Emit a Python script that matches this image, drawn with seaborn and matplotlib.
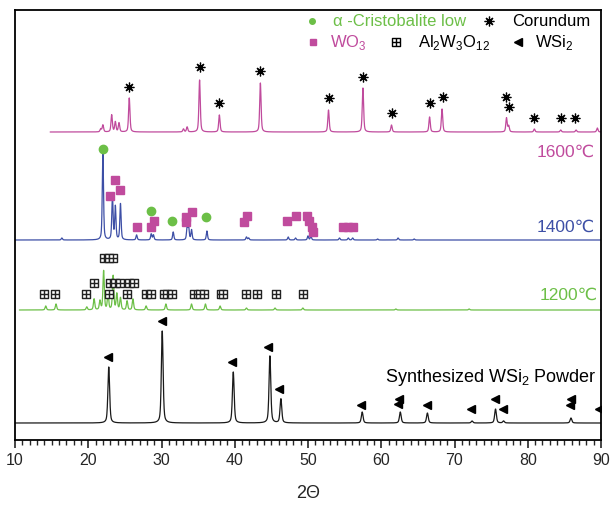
import numpy as np
import pandas as pd
import matplotlib
matplotlib.use("Agg")
import matplotlib.pyplot as plt
from matplotlib.path import Path
from matplotlib.ticker import MultipleLocator
import seaborn as sns

# ---- peak lists (2theta, height above baseline) ----
black_pos = [22.8, 30.1, 39.8, 44.8, 46.3, 57.4, 62.6, 66.3, 72.4, 75.6, 76.7, 85.9]
black_int = [56, 92, 51, 67, 24, 11, 11, 10, 2, 14, 2, 5]

green_pos = [14.2, 15.6, 19.8, 20.8, 21.6, 22.1, 22.7, 23.4, 23.9, 24.4, 25.3, 26.1,
             27.9, 30.6, 34.1, 36.0, 38.0, 41.6, 45.5, 49.3, 62.0, 72.0]
green_int = [4, 6, 3, 11, 9, 39, 16, 34, 16, 12, 9, 11,
             4, 6, 6, 6, 4, 2, 2, 2, 1, 1]

blue_pos = [16.4, 22.0, 23.3, 23.7, 24.4, 26.6, 28.6, 28.9, 31.6, 33.5, 33.7, 34.1,
            36.2, 41.6, 41.9, 47.3, 48.3, 50.0, 50.4, 54.3, 55.5, 56.1, 59.5, 62.3, 64.5]
blue_int = [2, 86, 45, 33, 36, 5, 6, 5, 8, 12, 13, 10,
            9, 3, 2, 3, 2, 4, 4, 2, 2, 2, 1, 2, 1]

magenta_pos = [21.7, 22.0, 23.2, 23.7, 24.2, 25.6, 33.0, 33.5, 35.2, 37.9, 43.5, 52.8,
               57.5, 61.4, 66.6, 68.3, 77.1, 77.4, 80.9, 84.5, 86.6, 89.5]
magenta_int = [3, 7, 17, 10, 9, 34, 3, 5, 52, 17, 49, 22,
               44, 7, 15, 23, 14, 6, 3, 2, 2, 4]

# baselines of the stacked patterns and where each scan starts
offsets = {"black": 17, "green": 130, "blue": 200, "magenta": 308}
starts = {"black": 10.0, "green": 10.6, "blue": 10.0, "magenta": 14.8}

# ---- phase markers (2theta, y) ----
wsi2_x = [22.7, 30.0, 39.6, 44.6, 46.1, 57.3, 62.4, 62.3, 66.3, 72.3, 75.5, 76.6, 85.7, 85.9, 89.7]
wsi2_y = [83, 119, 78, 93, 51, 35, 41, 36, 35, 31, 41, 31, 35, 41, 31]

alw_x = [14.0, 15.5, 19.7, 22.9, 25.3, 27.9, 28.5, 30.4, 30.8, 31.4, 34.5, 35.2, 35.8,
         38.1, 38.4, 41.6, 43.1, 45.6, 49.3,
         20.8, 23.0, 23.7, 24.4, 25.5, 26.2,
         22.1, 22.8, 23.4]
alw_y = [146] * 19 + [157] * 6 + [182] * 3

crist_x = [22.0, 28.5, 31.5, 36.1]
crist_y = [291, 229, 219, 223]

wo3_x = [23.0, 23.6, 24.4, 26.6, 28.6, 29.0, 33.3, 34.1, 33.4, 41.3, 41.7, 47.2, 48.3,
         49.8, 50.1, 50.5, 50.7, 54.8, 55.5, 56.1]
wo3_y = [244, 260, 250, 213, 213, 219, 223, 228, 218, 218, 224, 219, 224,
         224, 219, 213, 208, 213, 213, 213]

cor_x = [25.6, 35.2, 37.9, 43.5, 52.8, 57.5, 61.4, 66.6, 68.4, 77.0, 77.4, 80.9, 84.5, 86.5]
cor_y = [353, 373, 337, 369, 342, 363, 327, 337, 343, 343, 333, 322, 322, 322]

colors = {"black": "#1a1a1a", "green": "#6cbf47", "blue": "#3d4fa6", "magenta": "#c04b9d"}
fwhm = {"black": 0.28, "green": 0.22, "blue": 0.2, "magenta": 0.22}

# boxed plus marker
boxplus = Path([(-1, -1), (1, -1), (1, 1), (-1, 1), (-1, -1), (0, -1), (0, 1), (-1, 0), (1, 0)],
               [Path.MOVETO, Path.LINETO, Path.LINETO, Path.LINETO, Path.CLOSEPOLY,
                Path.MOVETO, Path.LINETO, Path.MOVETO, Path.LINETO])


def pattern(tt, pos, hts, w):
    y = np.zeros_like(tt)
    for p, h in zip(pos, hts):
        d = (tt - p) / (w / 2)
        y += h * (0.5 * np.exp(-np.log(2) * d ** 2) + 0.5 / (1 + d ** 2))
    return y


tt = np.linspace(10, 90, 4001)
frames = []
for name, pos, hts in [("black", black_pos, black_int), ("green", green_pos, green_int),
                       ("blue", blue_pos, blue_int), ("magenta", magenta_pos, magenta_int)]:
    m = tt >= starts[name]
    frames.append(pd.DataFrame({"tt": tt[m],
                                "y": offsets[name] + pattern(tt[m], pos, hts, fwhm[name]),
                                "sample": name}))
df = pd.concat(frames, ignore_index=True)

sns.set_style("white")
plt.rcParams["font.family"] = ["Liberation Sans", "DejaVu Sans"]
plt.rcParams["mathtext.fontset"] = "custom"
plt.rcParams["mathtext.rm"] = "Liberation Sans"

fig = plt.figure(figsize=(6.1, 5.09), dpi=100)
ax = fig.add_axes([15 / 610, 69 / 509, 586 / 610, 430 / 509])

for name in ["black", "green", "blue", "magenta"]:
    sns.lineplot(data=df[df["sample"] == name], x="tt", y="y", color=colors[name],
                 lw=0.9, sort=False, estimator=None, ax=ax)

ax.plot(wsi2_x, wsi2_y, ls="none", marker="<", ms=6, color="black")
ax.plot(alw_x, alw_y, ls="none", marker=boxplus, ms=6, mfc="white", mec="#222222", mew=1.0)
ax.plot(crist_x, crist_y, ls="none", marker="o", ms=6, color=colors["green"])
ax.plot(wo3_x, wo3_y, ls="none", marker="s", ms=5.2, color=colors["magenta"])
ax.plot(cor_x, cor_y, ls="none", marker=(8, 2, 0), ms=7, mew=0.9, color="black")

# legend drawn in place
ax.plot([50.5], [419], marker="o", ms=4, color=colors["green"])
ax.text(53.4, 419, "α -Cristobalite low", color=colors["green"], fontsize=12, va="center")
ax.plot([74.7], [419], marker=(8, 2, 0), ms=7, mew=0.9, color="black")
ax.text(77.85, 419, "Corundum", color="black", fontsize=12, va="center")
ax.plot([50.7], [398], marker="s", ms=4.2, color=colors["magenta"])
ax.text(53.0, 398, r"WO$_\mathregular{3}$", color=colors["magenta"], fontsize=12, va="center")
ax.plot([62.0], [398], marker=boxplus, ms=5.5, mfc="white", mec="black", mew=1.0)
ax.text(65.0, 398, r"Al$_\mathregular{2}$W$_\mathregular{3}$O$_\mathregular{12}$", color="black",
        fontsize=12, va="center")
ax.plot([78.7], [398], marker="<", ms=6, color="black")
ax.text(81.0, 398, r"WSi$_\mathregular{2}$", color="black", fontsize=12, va="center")

ax.text(89.2, 288, "1600℃", color=colors["magenta"], fontsize=12.5, ha="right", va="center")
ax.text(89.2, 213, "1400℃", color=colors["blue"], fontsize=12.5, ha="right", va="center")
ax.text(89.5, 145, "1200℃", color=colors["green"], fontsize=12.5, ha="right", va="center")
ax.text(89.45, 63, r"Synthesized WSi$_\mathregular{2}$ Powder", color="black", fontsize=13,
        ha="right", va="center")

ax.set_xlim(10, 90)
ax.set_ylim(0, 430)
ax.set_yticks([])
ax.set_ylabel("")
ax.xaxis.set_major_locator(MultipleLocator(10))
ax.xaxis.set_minor_locator(MultipleLocator(1))
ax.tick_params(axis="x", which="major", direction="out", length=6, width=1.2, labelsize=11.5)
ax.tick_params(axis="x", which="minor", direction="out", length=3.5, width=1)
ax.tick_params(axis="x", which="both", bottom=True)
ax.set_xlabel("2Θ", fontsize=13, labelpad=12)
for s in ax.spines.values():
    s.set_linewidth(1.3)
    s.set_color("black")

fig.savefig("out.png", dpi=100)
